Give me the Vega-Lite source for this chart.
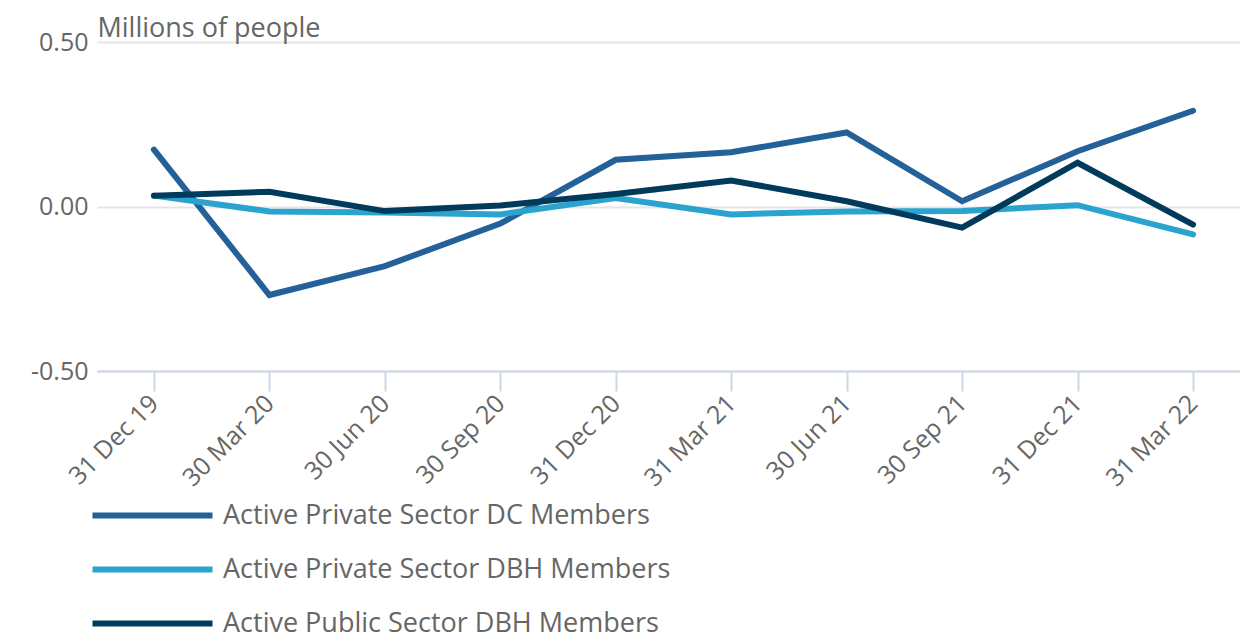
{
  "$schema": "https://vega.github.io/schema/vega-lite/v6.json",
  "autosize": {"type": "none"},
  "width": 1143,
  "height": 329,
  "padding": {"left": 97, "top": 42, "right": 0, "bottom": 262},
  "background": "white",
  "config": {
    "font": "Open Sans",
    "view": {"stroke": null}
  },
  "data": {
    "values": [
      {"date": "31 Dec 19", "series": "Active Private Sector DC Members", "value": 0.173},
      {"date": "30 Mar 20", "series": "Active Private Sector DC Members", "value": -0.269},
      {"date": "30 Jun 20", "series": "Active Private Sector DC Members", "value": -0.181},
      {"date": "30 Sep 20", "series": "Active Private Sector DC Members", "value": -0.052},
      {"date": "31 Dec 20", "series": "Active Private Sector DC Members", "value": 0.142},
      {"date": "31 Mar 21", "series": "Active Private Sector DC Members", "value": 0.165},
      {"date": "30 Jun 21", "series": "Active Private Sector DC Members", "value": 0.225},
      {"date": "30 Sep 21", "series": "Active Private Sector DC Members", "value": 0.016},
      {"date": "31 Dec 21", "series": "Active Private Sector DC Members", "value": 0.168},
      {"date": "31 Mar 22", "series": "Active Private Sector DC Members", "value": 0.291},
      {"date": "31 Dec 19", "series": "Active Private Sector DBH Members", "value": 0.033},
      {"date": "30 Mar 20", "series": "Active Private Sector DBH Members", "value": -0.015},
      {"date": "30 Jun 20", "series": "Active Private Sector DBH Members", "value": -0.018},
      {"date": "30 Sep 20", "series": "Active Private Sector DBH Members", "value": -0.024},
      {"date": "31 Dec 20", "series": "Active Private Sector DBH Members", "value": 0.026},
      {"date": "31 Mar 21", "series": "Active Private Sector DBH Members", "value": -0.024},
      {"date": "30 Jun 21", "series": "Active Private Sector DBH Members", "value": -0.015},
      {"date": "30 Sep 21", "series": "Active Private Sector DBH Members", "value": -0.014},
      {"date": "31 Dec 21", "series": "Active Private Sector DBH Members", "value": 0.004},
      {"date": "31 Mar 22", "series": "Active Private Sector DBH Members", "value": -0.085},
      {"date": "31 Dec 19", "series": "Active Public Sector DBH Members", "value": 0.033},
      {"date": "30 Mar 20", "series": "Active Public Sector DBH Members", "value": 0.045},
      {"date": "30 Jun 20", "series": "Active Public Sector DBH Members", "value": -0.014},
      {"date": "30 Sep 20", "series": "Active Public Sector DBH Members", "value": 0.003},
      {"date": "31 Dec 20", "series": "Active Public Sector DBH Members", "value": 0.038},
      {"date": "31 Mar 21", "series": "Active Public Sector DBH Members", "value": 0.079},
      {"date": "30 Jun 21", "series": "Active Public Sector DBH Members", "value": 0.016},
      {"date": "30 Sep 21", "series": "Active Public Sector DBH Members", "value": -0.064},
      {"date": "31 Dec 21", "series": "Active Public Sector DBH Members", "value": 0.133},
      {"date": "31 Mar 22", "series": "Active Public Sector DBH Members", "value": -0.055}
    ]
  },
  "mark": {"type": "line", "strokeWidth": 6, "strokeCap": "round", "strokeJoin": "miter"},
  "encoding": {
    "x": {
      "field": "date",
      "type": "ordinal",
      "sort": null,
      "scale": {"type": "point", "padding": 0.45, "align": 0.548},
      "axis": {
        "title": null,
        "labelAngle": -45,
        "labelAlign": "right",
        "labelBaseline": "middle",
        "labelFontSize": 25,
        "labelColor": "#666666",
        "labelPadding": 8,
        "domainColor": "#ccd6eb",
        "domainWidth": 2,
        "tickColor": "#ccd6eb",
        "tickWidth": 2,
        "tickSize": 20,
        "grid": false
      }
    },
    "y": {
      "field": "value",
      "type": "quantitative",
      "scale": {"domain": [-0.5, 0.5], "nice": false, "zero": false},
      "axis": {
        "title": "Millions of people",
        "titleAngle": 0,
        "titleAlign": "left",
        "titleBaseline": "alphabetic",
        "titleX": 0,
        "titleY": -6,
        "titleFontSize": 27,
        "titleFontWeight": "normal",
        "titleColor": "#666666",
        "values": [-0.5, 0, 0.5],
        "labelExpr": "datum.value < 0 ? '-' + format(-datum.value, '.2f') : format(datum.value, '.2f')",
        "labelFontSize": 25,
        "labelColor": "#666666",
        "labelPadding": 9,
        "domain": false,
        "ticks": false,
        "grid": true,
        "gridColor": "#e6e6e6",
        "gridWidth": 2
      }
    },
    "color": {
      "field": "series",
      "type": "nominal",
      "sort": null,
      "scale": {
        "domain": ["Active Private Sector DC Members", "Active Private Sector DBH Members", "Active Public Sector DBH Members"],
        "range": ["#236198", "#2aa3cf", "#003b5c"]
      },
      "legend": {
        "title": null,
        "orient": "none",
        "legendX": 92,
        "legendY": 460,
        "direction": "vertical",
        "symbolType": "M-11,0H1",
        "symbolSize": 400,
        "symbolStrokeWidth": 6,
        "labelFontSize": 27,
        "labelColor": "#666666",
        "labelOffset": 7,
        "labelLimit": 900,
        "rowPadding": 26
      }
    }
  }
}
